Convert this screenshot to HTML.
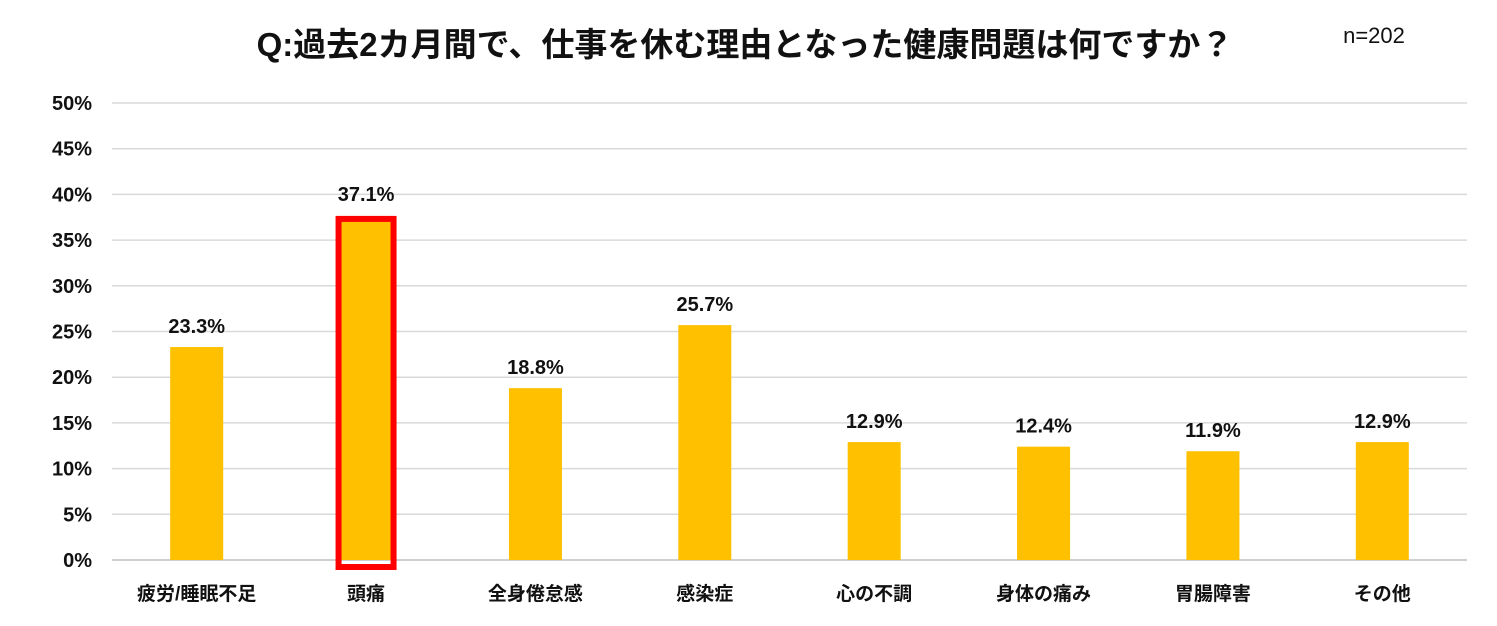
<!DOCTYPE html>
<html><head><meta charset="utf-8"><style>
html,body{margin:0;padding:0;background:#fff;}
svg{display:block;font-family:"Liberation Sans","Noto Sans CJK JP",sans-serif;}
</style></head><body>
<svg id="chart" width="1497" height="626" viewBox="0 0 1497 626">
<text x="745" y="56" text-anchor="middle" font-size="33" font-weight="bold" fill="#111">Q:過去2カ月間で、仕事を休む理由となった健康問題は何ですか？</text>
<text x="1374" y="43" text-anchor="middle" font-size="22" fill="#111">n=202</text>
<g id="grid"></g><g id="bars"></g><g id="labels"></g>
</svg>
<script>
const categories=["疲労/睡眠不足","頭痛","全身倦怠感","感染症","心の不調","身体の痛み","胃腸障害","その他"];
const values=[23.3,37.1,18.8,25.7,12.9,12.4,11.9,12.9];
const tickValues=[0,5,10,15,20,25,30,35,40,45,50];
const highlightIndex=1;
const NS="http://www.w3.org/2000/svg";
const x0=112,x1=1467,y0=560,y1=103,yMax=50;
const y=v=>y0-(v/yMax)*(y0-y1);
const band=(x1-x0)/categories.length;
const xc=i=>x0+band*(i+0.5);
const bw=53;
function mk(t,a,p){const e=document.createElementNS(NS,t);for(const k in a)e.setAttribute(k,a[k]);p.appendChild(e);return e;}
const grid=document.getElementById('grid'),bars=document.getElementById('bars'),labels=document.getElementById('labels');
tickValues.forEach(t=>{
 const l=mk('line',{x1:x0,x2:x1,y1:y(t),y2:y(t),stroke:t===0?'#bfbfbf':'#d9d9d9','stroke-width':1.5},grid);
 
 
 const tx=mk('text',{x:92,y:y(t)+7,'text-anchor':'end','font-size':20,'font-weight':'bold',fill:'#111'},grid);
 tx.textContent=t+'%';
 
 
});
values.forEach((v,i)=>{
 const r=mk('rect',{x:xc(i)-bw/2,y:y(v),width:bw,height:y0-y(v),fill:'#ffc000'},bars);
 
 
 if(i===highlightIndex){
  const h=mk('rect',{x:xc(i)-bw/2-1,y:y(v)-2,width:bw+2,height:y0-y(v)+9,fill:'none',stroke:'#ff0000','stroke-width':6},bars);
  
  
 }
 const vl=mk('text',{x:xc(i),y:y(v)-(i===highlightIndex?20:14),'text-anchor':'middle','font-size':20,'font-weight':'bold',fill:'#111'},labels);
 vl.textContent=v.toFixed(1)+'%';
 
 
 const cl=mk('text',{x:xc(i),y:600,'text-anchor':'middle','font-size':19,'font-weight':'bold',fill:'#111'},labels);
 cl.textContent=categories[i];
 
 
});
</script>
</body></html>
